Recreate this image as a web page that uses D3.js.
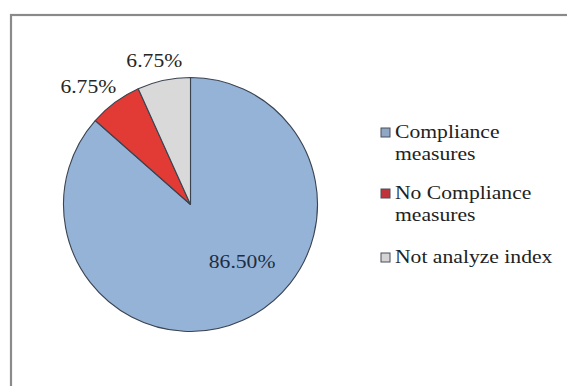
<!DOCTYPE html>
<html>
<head>
<meta charset="utf-8">
<script src="https://cdn.jsdelivr.net/npm/d3@7"></script>
<style>
  html, body { margin: 0; padding: 0; background: #fff; }
  svg { display: block; }
  text { font-family: "Liberation Serif", "Times New Roman", serif; }
</style>
</head>
<body>
<svg id="chart" width="567" height="386"></svg>
<script>
// Share of indices by compliance status
const categories = ["Compliance measures", "No Compliance measures", "Not analyze index"];
const shares = [86.50, 6.75, 6.75];
const labels = ["86.50%", "6.75%", "6.75%"];
const legendLines = [["Compliance", "measures"], ["No Compliance", "measures"], ["Not analyze index"]];

const colors = ["#95B3D7", "#E23B36", "#D9D9D9"];
const legendColors = ["#8FA6C4", "#C0333A", "#D4D4D4"];

const svg = d3.select("#chart");

// chart area frame (runs off the right and bottom edges)
svg.append("rect")
  .attr("x", 11).attr("y", 15)
  .attr("width", 600).attr("height", 420)
  .attr("fill", "#fff")
  .attr("stroke", "#8a8a8a")
  .attr("stroke-width", 2.2);

const cx = 190.5, cy = 204.5, R = 127;
const fontSize = 18.5;
const stretch = 1.17;   // wide typeface rendering

const pie = d3.pie().sort(null).value(d => d)(shares);
const arc = d3.arc().innerRadius(0).outerRadius(R);

const g = svg.append("g").attr("transform", `translate(${cx},${cy})`);

g.selectAll("path.slice")
  .data(pie)
  .join("path")
  .attr("class", "slice")
  .attr("d", arc)
  .attr("fill", (d, i) => colors[i])
  .attr("stroke", "#3a4350")
  .attr("stroke-width", 1.1)
  .attr("stroke-linejoin", "round");

// polar helper: angle measured clockwise from 12 o'clock
const polar = (a, r) => [r * Math.sin(a), -r * Math.cos(a)];

pie.forEach((d, i) => {
  const mid = (d.startAngle + d.endAngle) / 2;
  let x, y;
  if (i === 0) {
    // big slice: label inside, toward lower right
    [x, y] = polar(mid - 0.31, 77);
  } else {
    // small slices: label just outside the rim, box pushed outward
    const [px, py] = polar(mid, R + 13);
    const w = 64, h = 14;
    x = px + Math.sin(mid) * w / 2;
    y = py - Math.cos(mid) * h / 2;
  }
  g.append("g")
    .attr("transform", `translate(${x},${y}) scale(${stretch},1)`)
    .append("text")
    .attr("text-anchor", "middle")
    .attr("dominant-baseline", "central")
    .attr("font-size", fontSize)
    .attr("fill", i === 0 ? "#1e2d44" : "#262626")
    .text(labels[i]);
});

// legend
const legend = svg.append("g").attr("transform", "translate(381,0)");
const itemBase = [138, 199, 263];
const lineGap = 22.5;
categories.forEach((c, i) => {
  const base = itemBase[i];
  legend.append("rect")
    .attr("x", 0).attr("y", base - 10)
    .attr("width", 9).attr("height", 9)
    .attr("fill", legendColors[i])
    .attr("stroke", "#4a4f58")
    .attr("stroke-width", 1);
  const t = legend.append("g")
    .attr("transform", `translate(14,${base}) scale(${stretch},1)`)
    .append("text")
    .attr("font-size", fontSize)
    .attr("fill", "#222");
  legendLines[i].forEach((ln, k) => {
    t.append("tspan")
      .attr("x", 0)
      .attr("y", k * lineGap)
      .text(ln);
  });
});
</script>
</body>
</html>
